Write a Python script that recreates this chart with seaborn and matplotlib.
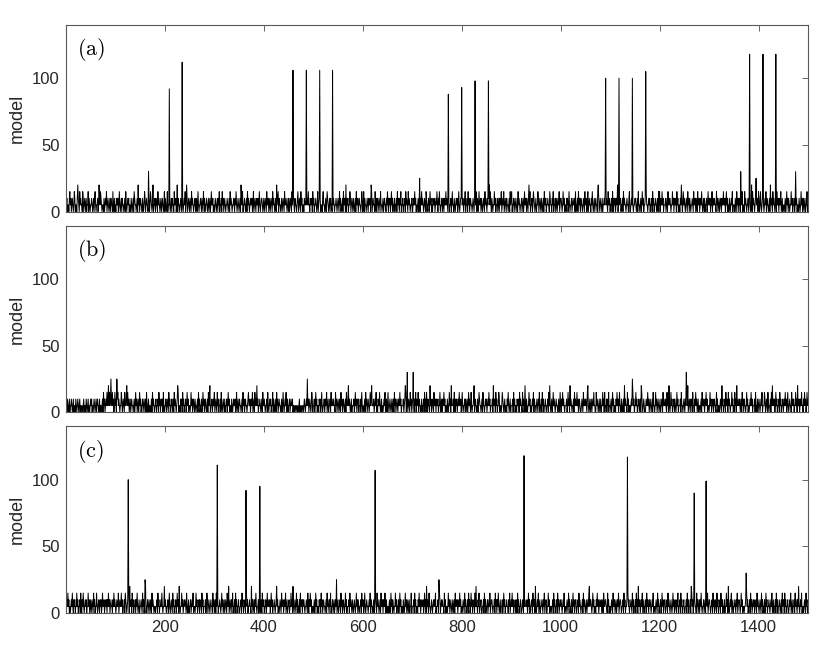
import numpy as np
import pandas as pd
import matplotlib
matplotlib.use('Agg')
import matplotlib.pyplot as plt
import seaborn as sns

# BASELINE NOISE, one digit per sample (x = 1..1500), value = digit * 5
noise_a = """
1201102312 0121013201 1024210312 1103201210 2011302101 1210120231 0112014213 2101102012 1301210120 2110301201
0211201310 1202110120 3101212011 0210120321 1012041201 2110210132 0121101201 3210140112 0211031210 1201210130
2101301121 0120211031 1201402110 1210210121 3014201210 2103121011 2012013101 1210210312 0112101201 2013112010
1210120213 0112031201 2101121012 0312101121 0213101210 1204213011 2101203121 0121120130 1210211201 3101221012
0121031120 1201210312 1012041230 2110120121 0311210120 2012103112 1021101230 1210312011 0211201213 1102112031
2011210130 1212011023 1101201321 0120211031 2101121012 1031201120 3112040212 0113201210 2101203112 0121101320
1302110121 0211204301 2110310212 0121031101 2012110213 1021201312 0112011203 1210213011 2011203121 0312101120
0211312010 1201402131 2101210320 1120131201 0211201213 1021310112 0120211312 1012011201 3110210121 2013101220
1210213011 2031201211 0121021130 1201311202 1012103121 0211241310 2101131201 1201202113 0121301210 2110120312
3011201210 1203121011 2012013112 0210241301 1201321012 0113201210 2101203112 0112110321 1021301120 1201213012
2101312011 0212013101 1201211203 0112031210 2110121031 1201301211 0213101201 2110342012 1012011213 0121031120
1120310212 0121401312 2011203121 1012110230 0121310112 2101203110 1201312011 2031101212 0112031201 1210120313
0211312011 1201203121 2101131202 1120312011 0214201312 1012103120 2101121031 1201203112 0121310120 2011201312
1201130211 2110312012 0121021131 1201312010 2101213011 1021031202 1201213011 0312101120 2110140312 1012011203
2013101211 0121302110 1204121031 2101203112 0211301201 1012013120 2101131201 1201312011 0210131201 2012011301
"""
noise_b = """
1021012011 2101201102 1012101201 1010120110 2101201012 1201012101 2012110201 1012031201 2131241312 1213120131
2012312101 1320121031 1241312012 0121101201 3120120131 2011201210 2031012011 0120312101 1201120312 0121203101
1201210312 0112012031 2101243011 0212031201 1201312011 0131201210 2101120312 0112013120 1210120312 4011201213
0121031201 1203101210 2011201312 0110210121 1201301201 2110120312 0121101231 1201213012 0312141201 1210120311
2101120310 1212011302 1012031201 2110120131 0121301201 1201211201 1011011010 1201010110 1210121012 0121013201
1201312011 0212013101 1201213012 0112031211 2110312012 1021031201 2101203112 4121012011 1201312012 2011201310
1012031201 2101312411 1201213010 2113101201 0121301201 3101210120 1203120121 0211312011 1201243012 0121031201
2110213021 1302110120 1120312031 0211041201 2103112021 1201131021 0213120110 2101312041 1120310212 0121311201
3101120201 2013121031 0112402110 1201321101 2031101212 0121312011 1204112031 2011320110 1321012011 0213101201
1120312011 0211203121 1031201410 2101131201 0121302110 1210213011 2031201121 0112031410 1201312101 2110120131
0213121011 1201312041 2101120312 1131201210 0121031121 2103410120 1201213110 0312101201 2011312031 1021203110
1201312011 0213120131 1021012041 2110312011 0121031201 1312011201 2043101210 0121131201 2101203110 1312012101
2011203121 1210312041 0131201120 2101312011 1203110121 0211314012 1021203110 2131201201 1012031121 0213120110
1312011201 2110312011 0121041201 1203112031 2101131201 0312041121 1201203120 2110131201 0121312011 1203110201
2101213011 1320121031 0112031412 1201312011 2031201120 1213120131 0121103121 2011312041 1201213110 2131201312
"""
noise_c = """
1213120101 2131021201 1312011203 1021310121 2011312012 0121031201 1310121021 2013112012 1202131201 2110213121
0121130121 1312011203 2101213041 1203120112 0213101201 1210312013 4011201210 2103121011 0112031201 1213101121
2101120131 0121031201 1201312041 0113120121 2103101201 1201213011 0131201120 2110312011 1201320121 0121103120
1203112011 2101312012 0121031140 1210213011 2031201120 0112031201 1201312011 2110412012 0213101120 1201203112
0112013121 1201312011 2101241201 0121031120 1213012011 2011312041 0121031201 1203112021 2101121031 0213120110
1201312011 0212031201 2110120312 1021301120 1201213012 0112031201 2101312011 1203121021 0121013120 2101120312
2013101211 0121302110 1201121031 2101203112 0211301201 1012013120 2101131201 1201312011 0210131201 2012011301
1120312011 0213120121 1201312041 2103110121 0121213011 1201320121 2110312011 0131201210 1201203121 2012131201
0121031201 1203120131 2011203141 1021301120 0112031201 1201213012 2101120312 0213101201 1201312011 2110213012
1312011201 2031201120 0121031211 1201312011 2103112041 0121301201 1210213012 2011312011 0112031201 1203120121
2101213011 0121031201 1201312012 2011203121 0112031210 1201213412 2101312011 0213120121 1201203112 2110312011
0121031120 1201213012 2101120312 0112031201 1210312011 2031204112 0121301201 1203121021 2101213011 0121031201
1201312012 2011203121 0121013120 1210213011 2031201120 0112031201 1204312011 2110312012 0213101120 1201213012
2101120312 0121031201 1203112011 2011312041 0121301201 1210213012 2101312011 0112031201 1203120121 2011203121
0121031201 1201312011 2101213012 0112031201 1210120312 2031201120 0121301201 1203121021 2101213011 0121031201
"""

# PEAKS (x position, height)
peaks_a_x = [167, 209, 235, 459, 486, 513, 539, 715, 773, 800, 827, 854,
             1091, 1118, 1145, 1172, 1364, 1382, 1395, 1409, 1435, 1475]
peaks_a_y = [30, 92, 112, 106, 106, 106, 106, 25, 88, 93, 98, 98,
             100, 100, 100, 105, 30, 118, 25, 118, 118, 30]
peaks_b_x = [91, 103, 488, 690, 702, 1145, 1254]
peaks_b_y = [25, 25, 25, 30, 30, 25, 30]
peaks_c_x = [126, 160, 199, 306, 364, 392, 547, 625, 754, 926, 1135, 1270, 1294, 1375, 1481]
peaks_c_y = [100, 25, 20, 111, 92, 95, 25, 107, 25, 118, 117, 90, 99, 30, 20]

panel_labels = ['(a)', '(b)', '(c)']
x_ticks = [200, 400, 600, 800, 1000, 1200, 1400]
y_ticks = [0, 50, 100]


def build(noise, px, py):
    vals = np.array([int(c) * 5 for c in noise if c.isdigit()], dtype=float)
    for xx, yy in zip(px, py):
        vals[xx - 1] = yy
    return pd.DataFrame({'x': np.arange(1, len(vals) + 1), 'model': vals})


frames = [build(noise_a, peaks_a_x, peaks_a_y),
          build(noise_b, peaks_b_x, peaks_b_y),
          build(noise_c, peaks_c_x, peaks_c_y)]

sns.set_style('white')
plt.rcParams['font.family'] = ['Liberation Sans', 'DejaVu Sans']
plt.rcParams['mathtext.fontset'] = 'cm'

fig, axes = plt.subplots(3, 1, figsize=(8.3, 6.55), dpi=100, sharex=True)
fig.subplots_adjust(left=0.080, right=0.9735, top=0.962, bottom=0.064, hspace=0.075)

for ax, df, lab in zip(axes, frames, panel_labels):
    sns.lineplot(data=df, x='x', y='model', ax=ax, color='black', lw=0.7,
                 estimator=None, legend=False)
    ax.set_xlim(1, 1500)
    ax.set_ylim(0, 140)
    ax.set_xticks(x_ticks)
    ax.set_yticks(y_ticks)
    ax.set_xlabel('')
    ax.set_ylabel('model', fontsize=13, color='0.15', labelpad=4)
    ax.tick_params(direction='in', length=4, width=0.6, color='0.3', labelcolor='0.15',
                   labelsize=12, top=True, right=True, pad=5)
    for sp in ax.spines.values():
        sp.set_color('0.35')
        sp.set_linewidth(0.8)
    ax.text(0.0148, 0.94, r'$\mathrm{' + lab + '}$', transform=ax.transAxes,
            va='top', ha='left', fontsize=16, color='black')

fig.savefig('out.png', dpi=100)
